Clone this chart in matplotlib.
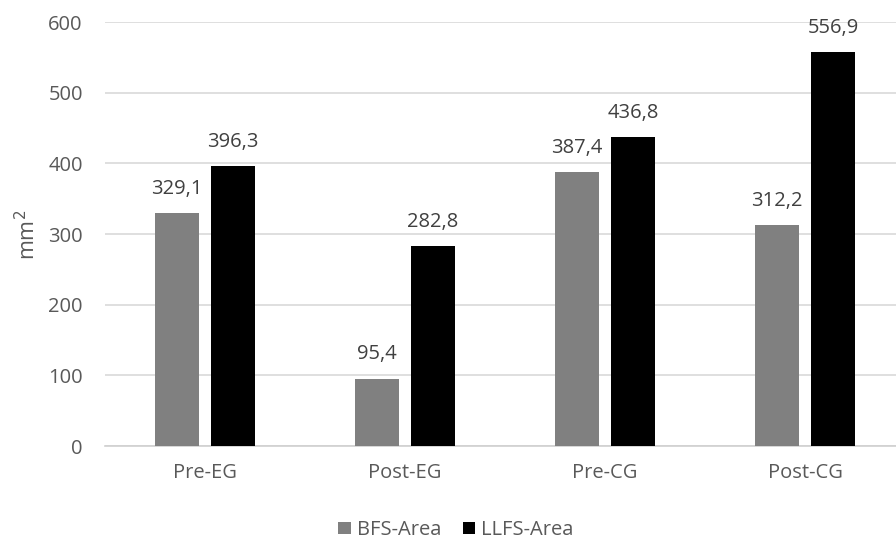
import matplotlib
matplotlib.use("Agg")
import matplotlib.pyplot as plt
import numpy as np

categories = ["Pre-EG", "Post-EG", "Pre-CG", "Post-CG"]
bfs_area = [329.1, 95.4, 387.4, 312.2]
llfs_area = [396.3, 282.8, 436.8, 556.9]
series_names = ["BFS-Area", "LLFS-Area"]
y_ticks = [0, 100, 200, 300, 400, 500, 600]

plt.rcParams['font.family'] = ['Open Sans', 'DejaVu Sans']
txt = '#595959'

fig = plt.figure(figsize=(8.96, 5.42), dpi=100)
ax = fig.add_axes([105/896, 1-446/542, 1-105/896, (446-22)/542])

x = np.arange(len(categories))
w = 0.22
off = 0.14
b1 = ax.bar(x - off, bfs_area, w, color='#808080', label=series_names[0], zorder=3)
b2 = ax.bar(x + off, llfs_area, w, color='#000000', label=series_names[1], zorder=3)

def fmt(v):
    return f"{v:.1f}".replace('.', ',')

for bars, vals in ((b1, bfs_area), (b2, llfs_area)):
    for r, v in zip(bars, vals):
        ax.annotate(fmt(v), (r.get_x() + r.get_width()/2, v), xytext=(0, 14),
                    textcoords='offset points', ha='center', va='baseline',
                    fontsize=14.5, color='#404040')

ax.set_ylim(0, 600)
ax.set_xlim(-0.5, 3.5 - 9/200)
ax.set_yticks(y_ticks)
ax.set_yticklabels([str(t) for t in y_ticks], fontsize=14.5, color=txt)
ax.set_xticks(x)
ax.set_xticklabels(categories, fontsize=14.5, color=txt)
ax.tick_params(axis='both', length=0)
ax.tick_params(axis='y', pad=16)
ax.tick_params(axis='x', pad=12)
ax.yaxis.grid(True, color='#d9d9d9', linewidth=1.2, zorder=0)
for s in ['top', 'right', 'left']:
    ax.spines[s].set_visible(False)
ax.spines['bottom'].set_color('#d0d0d0')
ax.spines['bottom'].set_linewidth(1.2)

fig.text(28/896, 1-235/542, "mm$^2$", rotation=90, ha='center', va='center', fontsize=15.5, color=txt)

fig.legend(handles=[b1, b2], labels=series_names, loc='center', bbox_to_anchor=(456/896, 1-530/542),
           ncol=2, frameon=False, fontsize=14.5, handlelength=0.6, handleheight=0.6,
           handletextpad=0.3, columnspacing=1.1, labelcolor=txt)

fig.savefig("out.png", dpi=100)
